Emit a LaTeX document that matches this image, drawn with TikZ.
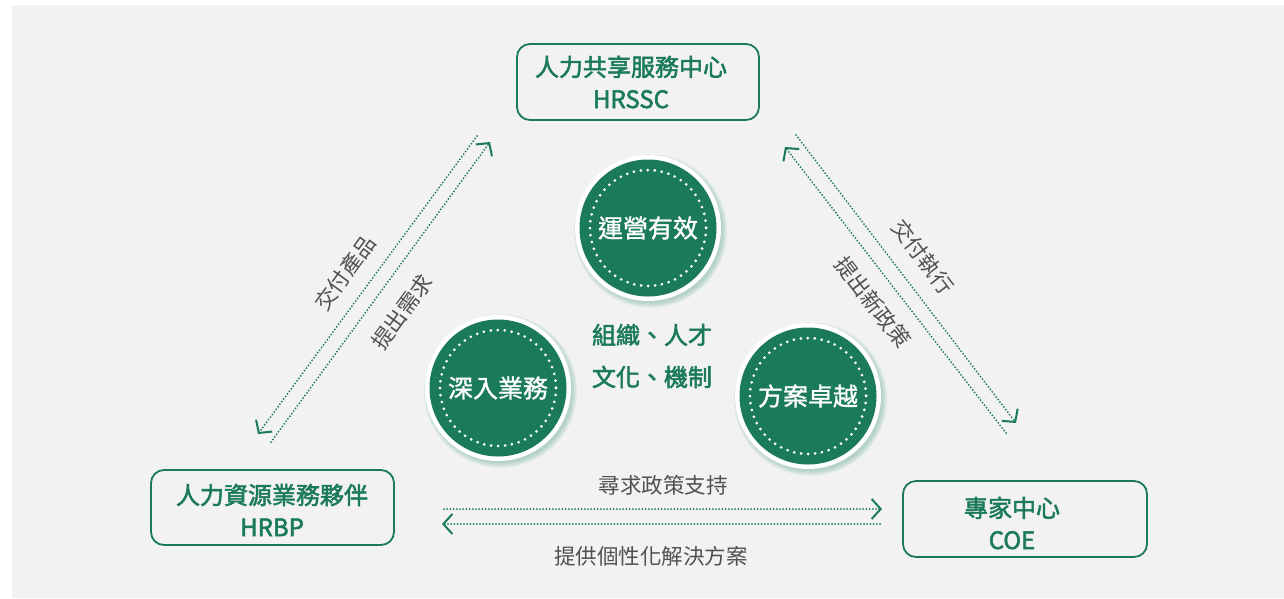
\documentclass[tikz,border=0pt]{standalone}
\usepackage{fontspec}
\setmainfont{Noto Sans CJK TC}
\newfontfamily\medfont[FakeBold=2.2]{Noto Sans CJK TC}
\newfontfamily\semifont[FakeBold=1.2]{Noto Sans CJK TC}
\usetikzlibrary{arrows.meta}
\definecolor{hrgreen}{RGB}{27,122,91}
\definecolor{bggray}{RGB}{241,242,241}
\definecolor{labgray}{RGB}{80,80,80}
\definecolor{shadowgreen}{RGB}{110,175,150}
\tikzset{
  hrbox/.style={draw=hrgreen, line width=1.8pt, rounded corners=13pt, fill=none},
  boxtext/.style={text=hrgreen, font=\fontsize{24}{32}\medfont, align=center, inner sep=0pt},
  labtext/.style={text=labgray, font=\fontsize{21.5}{26}\selectfont, inner sep=0pt},
  outerc/.style={circle, fill=white, minimum size=146pt, inner sep=0pt},
  softshadow/.style={fill=shadowgreen, opacity=0.14},
  innerc/.style={circle, fill=hrgreen, minimum size=137pt, inner sep=0pt, text=white, font=\fontsize{25}{28}\semifont},
  dotc/.style={white, line width=3pt, line cap=round, dash pattern=on 0pt off 7pt},
  flow/.style={hrgreen, line width=2pt, line cap=round, dash pattern=on 0pt off 3.2pt,
     -{Straight Barb[length=9pt,width=20pt,line width=2pt]}},
}
\newcommand{\hrshadow}[1]{%
  \foreach \rr in {72,73.5,75,76.5}{\fill[softshadow] ([xshift=2.5pt,yshift=-3pt]#1.center) circle[radius=\rr];}%
}
\begin{document}
\begin{tikzpicture}[x=1pt,y=-1pt]
\useasboundingbox (0,0) rectangle (1284,598);
\fill[bggray] (12,5) rectangle (1284,598);

% boxes
\node[hrbox, minimum width=242pt, minimum height=76pt] (ssc) at (638,82) {};
\node[boxtext] (ssct) at (631,82) {人力共享服務中心\\HRSSC};
\node[hrbox, minimum width=243pt, minimum height=75pt] (bp) at (272.5,507.5) {};
\node[boxtext] (bpt) at (272,510) {人力資源業務夥伴\\HRBP};
\node[hrbox, minimum width=244pt, minimum height=76pt] (coe) at (1025,519) {};
\node[boxtext] (coet) at (1012,523) {專家中心\\COE};

% circle anchors
\coordinate (opc) at (648,228);
\coordinate (bizc) at (498,388);
\coordinate (solc) at (808,396);
\hrshadow{opc}
\hrshadow{bizc}
\hrshadow{solc}

% circles
\node[outerc] (op) at (opc) {};
\node[innerc] (opi) at (op.center) {運營有效};
\draw[dotc] (op.center) circle[radius=58];

\node[outerc] (biz) at (bizc) {};
\node[innerc] (bizi) at (biz.center) {深入業務};
\draw[dotc] (biz.center) circle[radius=58];

\node[outerc] (sol) at (solc) {};
\node[innerc] (soli) at (sol.center) {方案卓越};
\draw[dotc] (sol.center) circle[radius=58];

\node[text=hrgreen, font=\fontsize{24}{42}\medfont, align=center, inner sep=0pt] (core) at (652,356) {組織、人才\\文化、機制};

% connector endpoints
\coordinate (l1s) at (477,136); \coordinate (l1e) at (258,434);
\coordinate (l2s) at (271,442); \coordinate (l2e) at (490,142);
\coordinate (r1s) at (796,135); \coordinate (r1e) at (1016,423);
\coordinate (r2s) at (1006,433); \coordinate (r2e) at (785,147);
\coordinate (b1s) at (444,509); \coordinate (b1e) at (882,509);
\coordinate (b2s) at (880,524); \coordinate (b2e) at (442,524);

\draw[flow] (l1s) -- (l1e);
\draw[flow] (l2s) -- (l2e);
\draw[flow] (r1s) -- (r1e);
\draw[flow] (r2s) -- (r2e);
\draw[flow] (b1s) -- (b1e);
\draw[flow] (b2s) -- (b2e);

% labels
\node[labtext, rotate=54] (lab1) at (345,273) {交付產品};
\node[labtext, rotate=54] (lab2) at (402,312) {提出需求};
\node[labtext, rotate=-52.6] (lab3) at (923,257) {交付執行};
\node[labtext, rotate=-52.6] (lab4) at (873,302) {提出新政策};
\node[labtext] (lab5) at (663,485) {尋求政策支持};
\node[labtext] (lab6) at (651,556) {提供個性化解決方案};
\end{tikzpicture}
\end{document}
